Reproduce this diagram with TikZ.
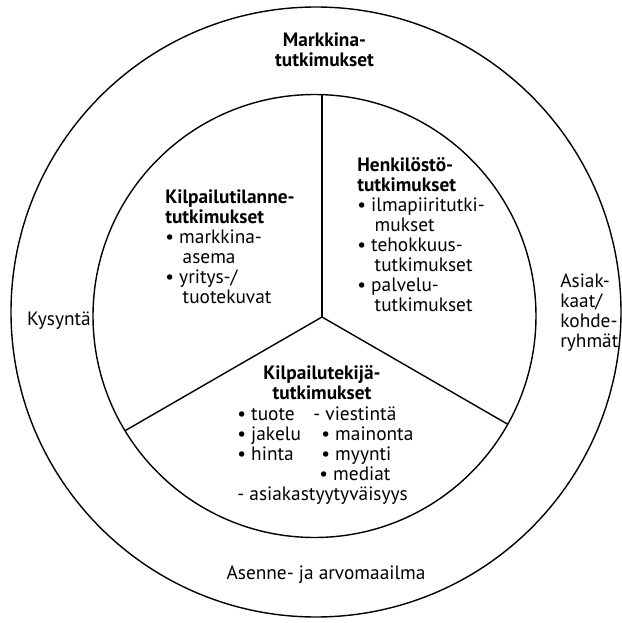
\documentclass[tikz,border=0pt]{standalone}
\usepackage{fontspec}
\setmainfont{PT Sans}
\usepackage{tikz}
\tikzstyle{ring} = [line width=0.8pt, draw=black]
\tikzstyle{txt} = [inner sep=0pt, align=left, font=\fontsize{11}{11.4}\selectfont]
\tikzstyle{head} = [inner sep=0pt, align=center, font=\fontsize{11}{11.4}\selectfont\bfseries]
\newcommand{\ind}{\hspace*{0.9em}}

\begin{document}
\begin{tikzpicture}
\useasboundingbox (-6.44,-6.12) rectangle (6.0,6.34);

\coordinate (mid) at (0,0);
\draw [ring] (-0.12,0.10) circle (6.1);
\draw [ring] (-0.15,0.02) circle (4.43);
\begin{scope}
  \clip (-0.15,0.02) circle (4.43);
  \draw [ring] (mid) -- (90:6);
  \draw [ring] (mid) -- (210:6);
  \draw [ring] (mid) -- (330:6);
\end{scope}

%%% outer ring
\node (markt) [head] at (0.05,5.34) {Markkina-\\tutkimukset};
\node (kysy) [txt] at (-5.26,-0.08) {Kysyntä};
\node (asiak) [txt, anchor=west] at (4.76,0.08) {Asiak-\\kaat/\\kohde-\\ryhmät};
\node (asenne) [txt] at (0.08,-5.16) {Asenne- ja arvomaailma};

%%% sectors
\node (kilp) [txt, anchor=west] at (-3.14,1.4) {\textbf{Kilpailutilanne-}\\\textbf{tutkimukset}\\
  \textbullet\ markkina-\\\ind asema\\\textbullet\ yritys-/\\\ind tuotekuvat};
\node (henk) [txt, anchor=west] at (0.7,1.64) {\textbf{Henkilöstö-}\\\textbf{tutkimukset}\\
  \textbullet\ ilmapiiritutki-\\\ind mukset\\\textbullet\ tehokkuus-\\\ind tutkimukset\\
  \textbullet\ palvelu-\\\ind tutkimukset};
\node (tek) [head] at (0,-1.32) {Kilpailutekijä-\\tutkimukset};
\node (teklist) [txt, anchor=west] at (-1.7,-2.77) {%
  \makebox[1.52cm][l]{\textbullet\ tuote}- viestintä\\
  \makebox[1.52cm][l]{\textbullet\ jakelu}\hspace{0.16cm}\textbullet\ mainonta\\
  \makebox[1.52cm][l]{\textbullet\ hinta}\hspace{0.16cm}\textbullet\ myynti\\
  \makebox[1.52cm][l]{}\hspace{0.12cm}\textbullet\ mediat\\
  - asiakastyytyväisyys};

\end{tikzpicture}
\end{document}
